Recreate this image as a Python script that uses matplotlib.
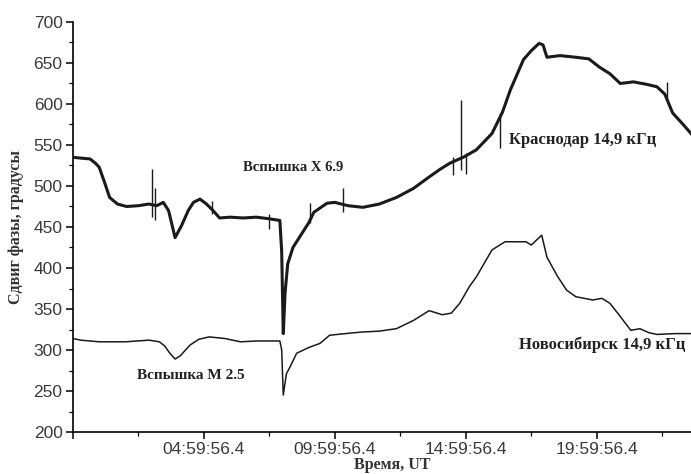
import numpy as np
import matplotlib.pyplot as plt
from matplotlib.ticker import MultipleLocator

# time axis in hours from start of record
krasnodar_t = [0, 0.3, 0.65, 0.85, 1.0, 1.2, 1.4, 1.7, 2.05, 2.5,
               2.9, 3.2, 3.45, 3.65, 3.9, 4.15, 4.4, 4.6, 4.85, 5.1,
               5.35, 5.6, 6.0, 6.5, 7.0, 7.5, 7.9, 7.97, 8.03, 8.1,
               8.2, 8.4, 8.7, 9.0, 9.2, 9.7, 10.0, 10.5, 11.07, 11.7,
               12.35, 13.0, 13.6, 14.0, 14.4, 14.9, 15.4, 16.0, 16.4, 16.7,
               17.2, 17.5, 17.8, 17.95, 18.1, 18.6, 19.2, 19.7, 20.1, 20.5,
               20.9, 21.4, 21.9, 22.3, 22.6, 22.9, 23.3, 23.6]
krasnodar_v = [535, 534, 533, 528, 523, 505, 486, 478, 475, 476,
               478, 476, 480, 470, 437, 452, 470, 480, 484, 478,
               470, 461, 462, 461, 462, 460, 458, 420, 320, 370,
               405, 425, 440, 455, 468, 479, 480, 476, 474, 478,
               486, 497, 511, 520, 528, 535, 544, 564, 590, 617,
               654, 665, 674, 672, 657, 659, 657, 655, 645, 637,
               625, 627, 624, 621, 612, 589, 575, 564]

# isolated spikes on the Krasnodar record: time, low, high
spike_t = [3.03, 3.13, 5.3, 7.5, 9.07, 10.3, 14.5, 14.8, 15.0, 16.3, 22.7]
spike_lo = [462, 458, 466, 448, 455, 468, 513, 519, 515, 546, 605]
spike_hi = [521, 497, 482, 466, 479, 497, 535, 605, 540, 589, 627]

novosibirsk_t = [0, 0.3, 1.0, 2.0, 2.9, 3.3, 3.5, 3.7, 3.9, 4.1,
                 4.47, 4.8, 5.2, 5.8, 6.4, 7.0, 7.9, 7.97, 8.03, 8.15,
                 8.3, 8.54, 9.0, 9.43, 9.8, 10.4, 11.07, 11.7, 12.35, 13.0,
                 13.6, 14.1, 14.45, 14.77, 15.15, 15.4, 16.0, 16.5, 16.9, 17.3,
                 17.5, 17.9, 18.1, 18.5, 18.85, 19.2, 19.85, 20.2, 20.5, 20.8,
                 21.3, 21.65, 22.0, 22.3, 23.0, 23.6]
novosibirsk_v = [314, 312, 310, 310, 312, 310, 305, 296, 289, 293,
                 306, 313, 316, 314, 310, 311, 311, 300, 245, 271,
                 280, 296, 303, 308, 318, 320, 322, 323, 326, 336,
                 348, 343, 345, 357, 378, 389, 422, 432, 432, 432,
                 428, 440, 413, 390, 373, 365, 361, 363, 357, 345,
                 324, 326, 321, 319, 320, 320]

xtick_pos = [0, 5, 10, 15, 20]
xtick_labels = ['', '04:59:56.4', '09:59:56.4', '14:59:56.4', '19:59:56.4']

serif = 'Liberation Serif'
plt.rcParams['font.family'] = 'Liberation Sans'

fig = plt.figure(figsize=(6.91, 4.74), dpi=100)
ax = fig.add_axes([0.1056, 0.0886, 0.8944, 0.865])

ax.plot(krasnodar_t, krasnodar_v, color='#1a1a1a', lw=2.2, solid_joinstyle='round')
ax.vlines(spike_t, spike_lo, spike_hi, color='#1a1a1a', lw=1.0)
ax.plot(novosibirsk_t, novosibirsk_v, color='#1a1a1a', lw=1.1)

ax.set_xlim(0, 23.6)
ax.set_ylim(200, 700)
ax.set_xticks(xtick_pos)
ax.set_xticklabels(xtick_labels)
ax.xaxis.set_minor_locator(MultipleLocator(2.5))
ax.yaxis.set_major_locator(MultipleLocator(50))
ax.yaxis.set_minor_locator(MultipleLocator(25))

for side in ['top', 'right']:
    ax.spines[side].set_visible(False)
for side in ['left', 'bottom']:
    ax.spines[side].set_linewidth(1.2)

ax.tick_params(which='major', direction='out', length=5, width=1.1,
               labelsize=12.5, labelcolor='#3a3a3a', pad=2.5)
ax.tick_params(which='minor', direction='out', length=3, width=0.9)

ax.set_ylabel('Сдвиг фазы, градусы', family=serif, fontweight='bold',
              fontsize=11.5, color='#333333')
ax.yaxis.set_label_coords(-0.08, 0.5)
ax.set_xlabel('Время, UT', family=serif, fontweight='bold',
              fontsize=11.5, color='#333333')
ax.xaxis.set_label_coords(0.516, -0.06)

txt = dict(family=serif, fontweight='bold', color='#222222',
           ha='center', va='center')
ax.text(8.4, 522, 'Вспышка X 6.9', fontsize=10.5, **txt)
ax.text(19.47, 556, 'Краснодар 14,9 кГц', fontsize=12, **txt)
ax.text(4.5, 269, 'Вспышка М 2.5', fontsize=11, **txt)
ax.text(20.2, 306, 'Новосибирск 14,9 кГц', fontsize=12, **txt)

fig.savefig('out.png', dpi=100)
